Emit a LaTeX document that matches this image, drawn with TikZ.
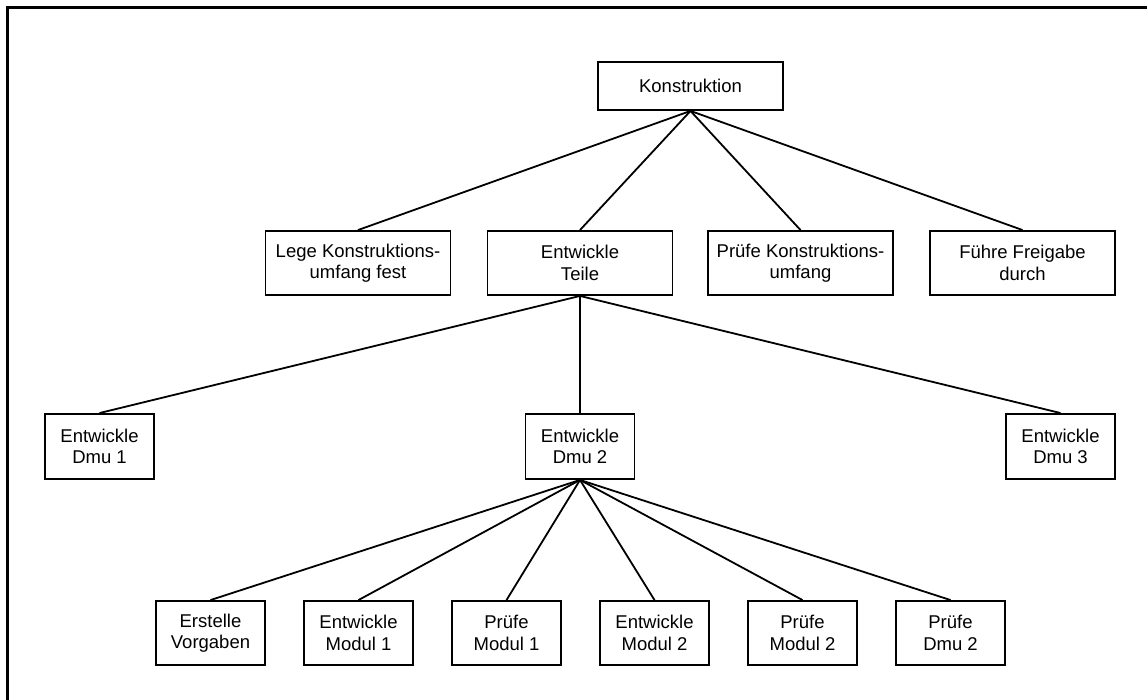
\documentclass[tikz,border=0pt]{standalone}
\usepackage{fontspec}
\setmainfont{Liberation Sans}
\begin{document}
\begin{tikzpicture}[x=1pt,y=-1pt,
  box/.style={draw=black, line width=1.9pt, fill=white, inner sep=0pt, align=center,
    font=\fontsize{18.5}{21.5}\selectfont},
  wide/.style={box, minimum width=185pt, minimum height=64pt},
  small/.style={box, minimum width=109pt, minimum height=65pt},
  link/.style={draw=black, line width=1.8pt}]
\useasboundingbox (0,0) rectangle (1147,700);
\draw[line width=3pt] (7.5,700) -- (7.5,7.5) -- (1147,7.5);

\node[box, minimum width=185pt, minimum height=48pt] (K) at (690.5,86) {Konstruktion};

\node[wide] (L) at (358,263) {Lege Konstruktions-\\umfang fest};
\node[wide] (T) at (580,263) {Entwickle\\Teile};
\node[wide] (P) at (800.5,263) {Prüfe Konstruktions-\\umfang};
\node[wide] (F) at (1022.5,263) {Führe Freigabe\\durch};

\node[small] (D1) at (99.5,446.5) {Entwickle\\Dmu 1};
\node[small] (D2) at (580,446.5) {Entwickle\\Dmu 2};
\node[small] (D3) at (1060.5,446.5) {Entwickle\\Dmu 3};

\node[small, minimum height=64pt] (E1) at (210.5,633) {Erstelle\\Vorgaben};
\node[small, minimum height=64pt] (E2) at (358.5,633) {Entwickle\\Modul 1};
\node[small, minimum height=64pt] (E3) at (506.5,633) {Prüfe\\Modul 1};
\node[small, minimum height=64pt] (E4) at (654.5,633) {Entwickle\\Modul 2};
\node[small, minimum height=64pt] (E5) at (802.5,633) {Prüfe\\Modul 2};
\node[small, minimum height=64pt] (E6) at (950.5,633) {Prüfe\\Dmu 2};

\foreach \c in {L,T,P,F} \draw[link] (K.south) -- (\c.north);
\draw[link] (T.south) -- (D1.north);
\draw[link] (T.south) -- (D2.north);
\draw[link] (T.south) -- (D3.north);
\foreach \c in {E1,E2,E3,E4,E5,E6} \draw[link] (D2.south) -- (\c.north);
\end{tikzpicture}
\end{document}
